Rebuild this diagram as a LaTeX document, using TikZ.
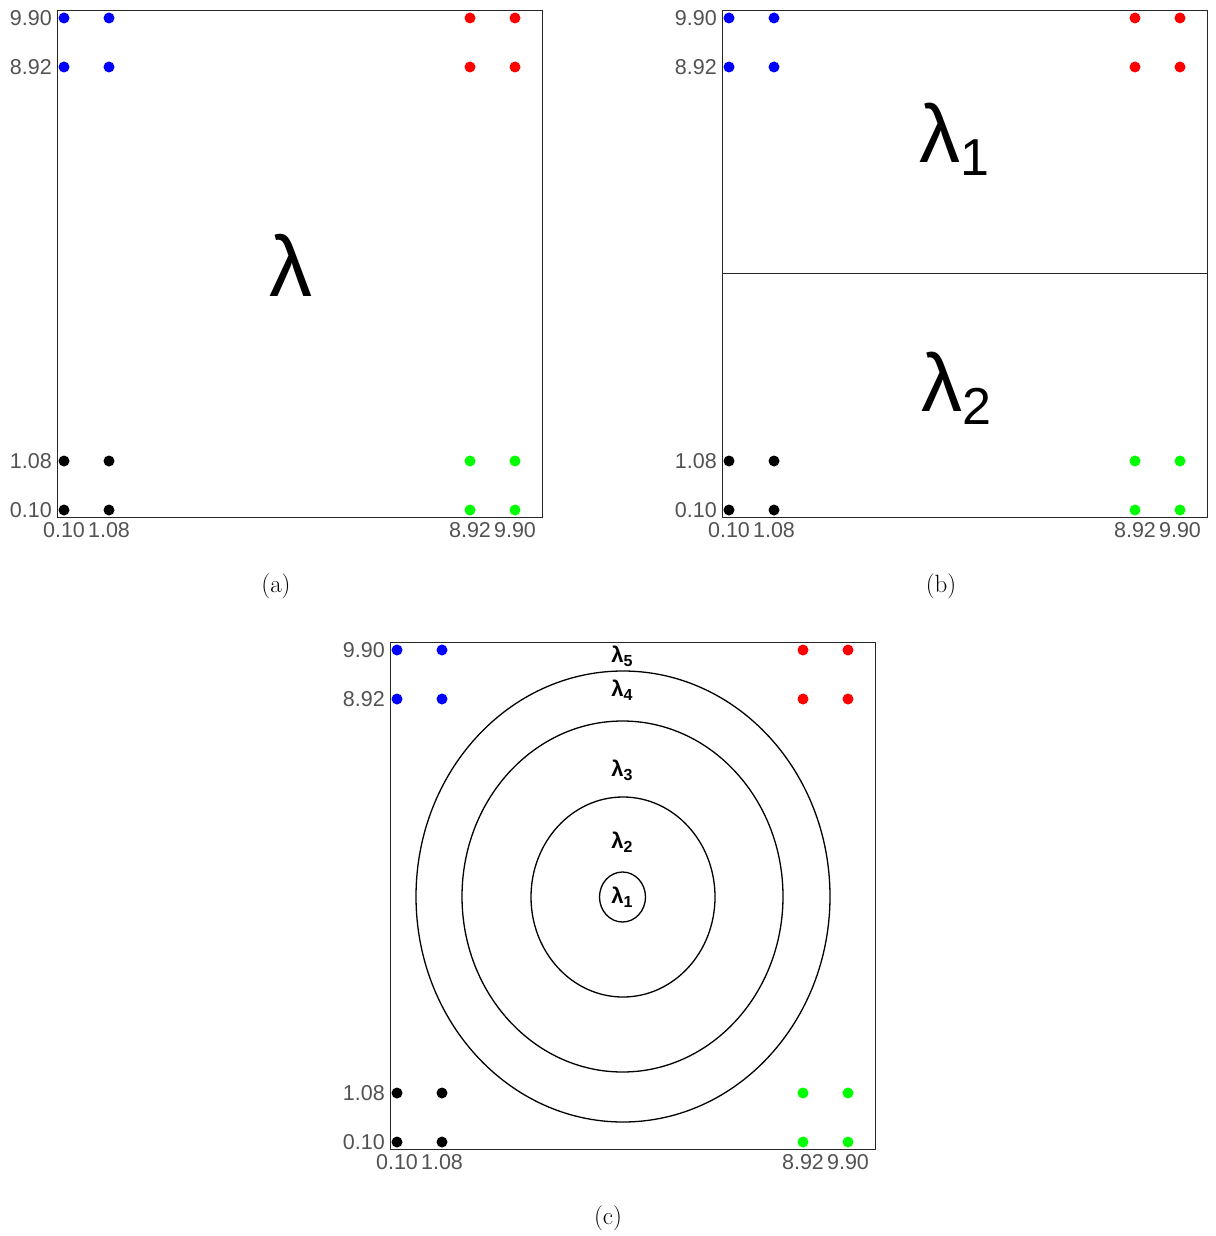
\documentclass[tikz,border=0pt]{standalone}
\usepackage{fontspec}
\setmainfont{Latin Modern Roman}
\newfontfamily\arial{Liberation Sans}
\usetikzlibrary{shapes.geometric}
\tikzset{
  frame/.style={draw=black!85, line width=0.8pt, minimum width=485pt, minimum height=507pt, anchor=north west, inner sep=0pt},
  dot/.style={circle, inner sep=0pt, minimum size=11pt},
  ticklab/.style={font=\arial\fontsize{21.5}{23}\selectfont, text=black!68, inner sep=0pt},
  caption/.style={font=\fontsize{25}{28}\selectfont, inner sep=0pt},
  ring/.style={draw=black, ellipse, line width=1.3pt, inner sep=0pt},
  smlam/.style={font=\arial\bfseries\fontsize{22}{24}\selectfont, inner sep=0pt}
}
\newcommand{\biglam}[1]{{\arial\fontsize{82}{90}\selectfont λ\raisebox{-13pt}{\fontsize{52}{60}\selectfont #1}}}
\newcommand{\smlamtxt}[1]{λ\raisebox{-4pt}{\fontsize{16}{18}\selectfont #1}}
\begin{document}
\begin{tikzpicture}[x=1pt,y=-1pt]
\useasboundingbox (0,0) rectangle (1215,1236);
\foreach \p/\dx/\dy in {a/0/0, b/665/0, c/333/632} {
  \node[frame] (\p-frame) at (57+\dx,10+\dy) {};
  % dots
  \node[dot, fill=blue] (\p-b1) at (64+\dx,18+\dy) {};
  \node[dot, fill=blue] (\p-b2) at (109+\dx,18+\dy) {};
  \node[dot, fill=blue] (\p-b3) at (64+\dx,67+\dy) {};
  \node[dot, fill=blue] (\p-b4) at (109+\dx,67+\dy) {};
  \node[dot, fill=red] (\p-r1) at (470+\dx,18+\dy) {};
  \node[dot, fill=red] (\p-r2) at (515+\dx,18+\dy) {};
  \node[dot, fill=red] (\p-r3) at (470+\dx,67+\dy) {};
  \node[dot, fill=red] (\p-r4) at (515+\dx,67+\dy) {};
  \node[dot, fill=black] (\p-k1) at (64+\dx,461+\dy) {};
  \node[dot, fill=black] (\p-k2) at (109+\dx,461+\dy) {};
  \node[dot, fill=black] (\p-k3) at (64+\dx,510+\dy) {};
  \node[dot, fill=black] (\p-k4) at (109+\dx,510+\dy) {};
  \node[dot, fill=green] (\p-g1) at (470+\dx,461+\dy) {};
  \node[dot, fill=green] (\p-g2) at (515+\dx,461+\dy) {};
  \node[dot, fill=green] (\p-g3) at (470+\dx,510+\dy) {};
  \node[dot, fill=green] (\p-g4) at (515+\dx,510+\dy) {};
  % y tick labels
  \node[ticklab, anchor=east] (\p-y1) at (52+\dx,18+\dy) {9.90};
  \node[ticklab, anchor=east] (\p-y2) at (52+\dx,67+\dy) {8.92};
  \node[ticklab, anchor=east] (\p-y3) at (52+\dx,461+\dy) {1.08};
  \node[ticklab, anchor=east] (\p-y4) at (52+\dx,510+\dy) {0.10};
  % x tick labels
  \node[ticklab, anchor=north] (\p-x1) at (64+\dx,522+\dy) {0.10};
  \node[ticklab, anchor=north] (\p-x2) at (109+\dx,522+\dy) {1.08};
  \node[ticklab, anchor=north] (\p-x3) at (470+\dx,522+\dy) {8.92};
  \node[ticklab, anchor=north] (\p-x4) at (515+\dx,522+\dy) {9.90};
}
% captions
\node[caption] (capa) at (276,586) {(a)};
\node[caption] (capb) at (941,586) {(b)};
\node[caption] (capc) at (608,1218) {(c)};
% panel (a)
\node[inner sep=0pt, font=\arial\fontsize{86}{90}\selectfont, anchor=base] (lam) at (291,296) {λ};
% panel (b)
\draw[black!85, line width=0.8pt] (b-frame.west |- 0,273) coordinate (bl) -- (b-frame.east |- 0,273) coordinate (br);
\node[inner sep=0pt, anchor=base west] (lam1) at (919,162) {\biglam{1}};
\node[inner sep=0pt, anchor=base west] (lam2) at (921,411) {\biglam{2}};
% panel (c)
\node[ring, minimum width=414pt, minimum height=451pt] (e4) at (623,896.5) {};
\node[ring, minimum width=321pt, minimum height=351pt] (e3) at (622.5,896.5) {};
\node[ring, minimum width=184pt, minimum height=200pt] (e2) at (623,897) {};
\node[ring, minimum width=46pt, minimum height=50pt] (e1) at (622.5,897) {};
\node[smlam] (l5) at (622,656) {\smlamtxt{5}};
\node[smlam] (l4) at (622,690) {\smlamtxt{4}};
\node[smlam] (l3) at (622,770) {\smlamtxt{3}};
\node[smlam] (l2) at (622,842) {\smlamtxt{2}};
\node[smlam] (l1) at (622,897) {\smlamtxt{1}};
\end{tikzpicture}
\end{document}
